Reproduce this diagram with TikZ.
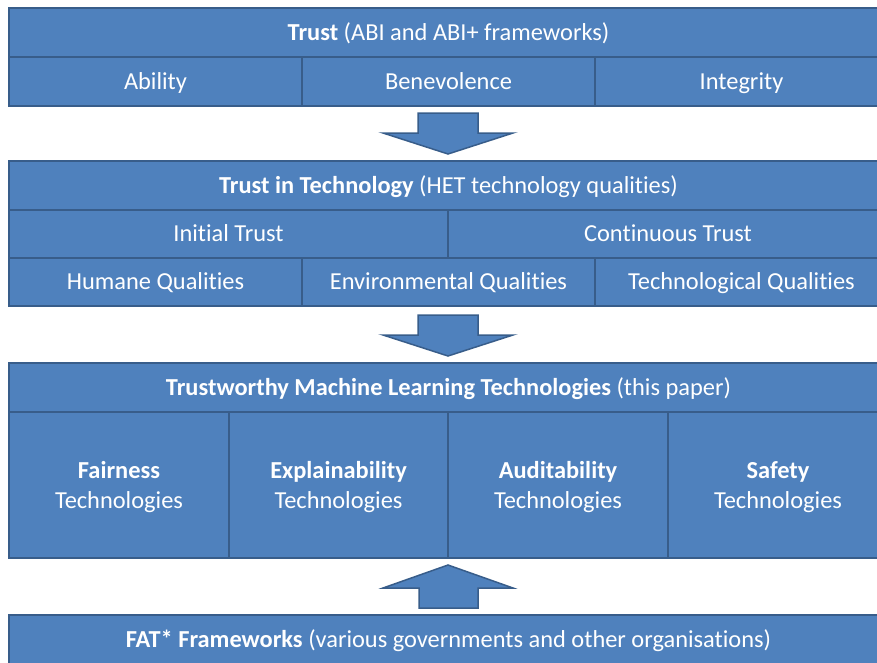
\documentclass[tikz,border=0pt]{standalone}
\usepackage{fontspec}
\setmainfont{Carlito}[Ligatures={NoCommon,NoContextual}]
\definecolor{boxfill}{HTML}{4F81BD}
\definecolor{boxline}{HTML}{385D8A}
\begin{document}
\begin{tikzpicture}[x=1pt,y=-1pt,
  cell/.style={draw=boxline, fill=boxfill, line width=2pt, text=white, inner sep=0pt,
    align=center, font=\fontsize{24.4}{30}\selectfont, text height=16pt, text depth=1pt},
  bigcell/.style={cell, text height=46pt, text depth=0pt},
  blockarrow/.style={draw=boxline, fill=boxfill, line width=1.5pt, line join=miter}]
\useasboundingbox (0,0) rectangle (877,662);
\clip (0,0) rectangle (877,662);
% Box 1
\node[cell, minimum width=879pt, minimum height=49pt] (trust) at (448.5,32.5) {\textbf{Trust} (ABI and ABI+ frameworks)};
\node[cell, minimum width=293pt, minimum height=49pt] (ability) at (155.5,81.5) {Ability};
\node[cell, minimum width=293pt, minimum height=49pt] (benev) at (448.5,81.5) {Benevolence};
\node[cell, minimum width=293pt, minimum height=49pt] (integ) at (741.5,81.5) {Integrity};
% Arrow 1
\draw[blockarrow] (418,113) -- (478,113) -- (478,133) -- (513,133) -- (448,154) -- (383,133) -- (418,133) -- cycle;
% Box 2
\node[cell, minimum width=879pt, minimum height=49pt] (tit) at (448.5,185.5) {\textbf{Trust in Technology} (HET technology qualities)};
\node[cell, minimum width=439pt, minimum height=48pt] (init) at (228.5,234) {Initial Trust};
\node[cell, minimum width=440pt, minimum height=48pt] (cont) at (668,234) {Continuous Trust};
\node[cell, minimum width=293pt, minimum height=48pt] (hum) at (155.5,282) {Humane Qualities};
\node[cell, minimum width=293pt, minimum height=48pt] (env) at (448.5,282) {Environmental Qualities};
\node[cell, minimum width=293pt, minimum height=48pt] (tech) at (741.5,282) {Technological Qualities};
% Arrow 2
\draw[blockarrow] (418,315) -- (478,315) -- (478,335) -- (513,335) -- (448,356) -- (383,335) -- (418,335) -- cycle;
% Box 3
\node[cell, minimum width=879pt, minimum height=49pt] (tml) at (448.5,387.5) {\textbf{Trustworthy Machine Learning Technologies} (this paper)};
\node[bigcell, minimum width=220pt, minimum height=146pt] (fair) at (119,485) {\textbf{Fairness}\\Technologies};
\node[bigcell, minimum width=219pt, minimum height=146pt] (expl) at (338.5,485) {\textbf{Explainability}\\Technologies};
\node[bigcell, minimum width=220pt, minimum height=146pt] (audit) at (558,485) {\textbf{Auditability}\\Technologies};
\node[bigcell, minimum width=220pt, minimum height=146pt] (safe) at (778,485) {\textbf{Safety}\\Technologies};
% Arrow 3 (up)
\draw[blockarrow] (419,608) -- (478,608) -- (478,588) -- (513,588) -- (448,565) -- (383,588) -- (419,588) -- cycle;
% Box 4
\node[cell, minimum width=879pt, minimum height=49pt] (fat) at (448.5,639.5) {\textbf{FAT* Frameworks} (various governments and other organisations)};
\end{tikzpicture}
\end{document}
